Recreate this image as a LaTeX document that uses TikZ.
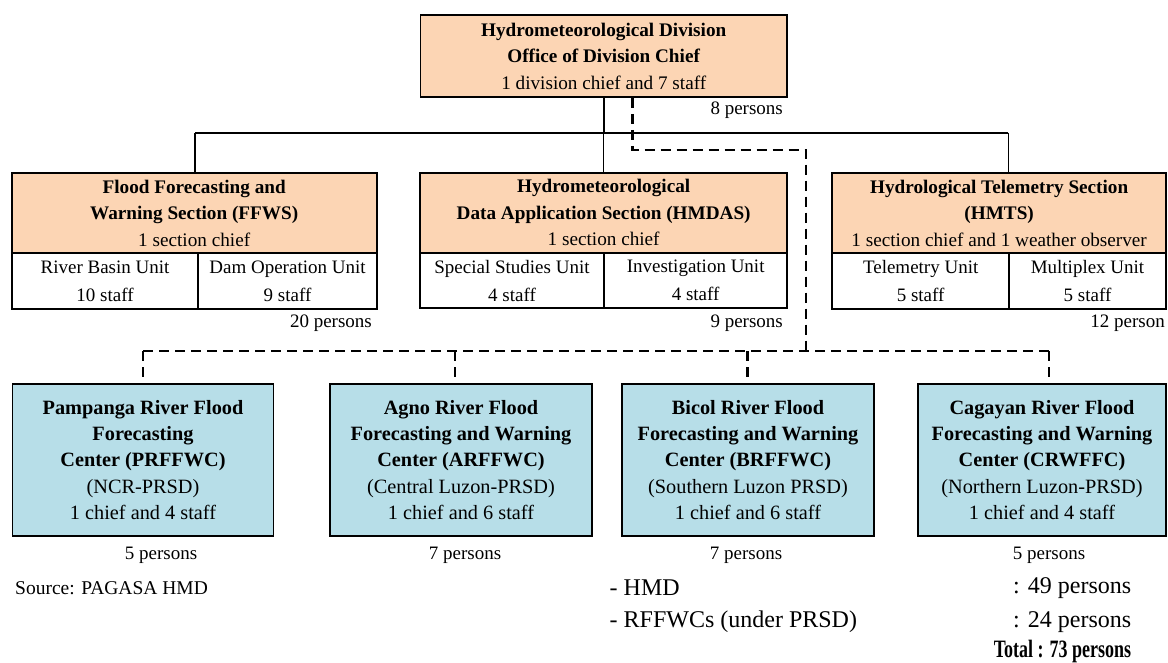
\documentclass[tikz,border=0pt]{standalone}
\usepackage{graphicx}
\usepackage{fontspec}
\setmainfont{Liberation Serif}
\usetikzlibrary{calc}

\definecolor{peach}{RGB}{252,213,180}
\definecolor{paleblue}{RGB}{183,222,232}

\tikzset{
  offbox/.style={draw=black, line width=1.7pt, fill=peach, inner sep=0pt, align=center,
                 font=\fontsize{19.2}{26.5}\selectfont},
  unitcell/.style={draw=black, line width=1.7pt, fill=white, inner sep=0pt, align=center,
                 font=\fontsize{19}{28}\selectfont},
  centrebox/.style={draw=black, line width=1.7pt, fill=paleblue, inner sep=0pt, align=center,
                 font=\fontsize{20.3}{26.3}\selectfont},
  tally/.style={inner sep=0pt, font=\fontsize{19}{22}\selectfont},
  notetext/.style={inner sep=0pt, anchor=west, font=\fontsize{24}{30}\selectfont},
  solidlink/.style={line width=1.6pt},
  dashlink/.style={line width=2.8pt, dash pattern=on 10pt off 6pt},
}

\begin{document}
\begin{tikzpicture}[x=1pt,y=-1pt]
\useasboundingbox (0,0) rectangle (1168,662);

% ---- division office ----
\node[offbox, minimum width=366.5pt, minimum height=82pt] (div) at (603.75,56)
  {\textbf{Hydrometeorological Division}\\\textbf{Office of Division Chief}\\1 division chief and 7 staff};
\node[tally, anchor=east] (divn) at (783,110.7) {8 persons};

% ---- sections ----
\node[offbox, minimum width=365pt, minimum height=80.6pt] (ffws) at (194.2,213)
  {\textbf{Flood Forecasting and}\\\textbf{Warning Section (FFWS)}\\1 section chief};
\node[unitcell, minimum width=186.6pt, minimum height=55.7pt] (rbu) at (105,281.15)
  {River Basin Unit\\10 staff};
\node[unitcell, minimum width=178.4pt, minimum height=55.7pt] (dou) at (287.5,281.15)
  {Dam Operation Unit\\9 staff};
\node[tally, anchor=east] (ffwsn) at (372,323) {20 persons};

\node[offbox, minimum width=367.3pt, minimum height=80pt] (hmdas) at (603.65,212.7)
  {\textbf{Hydrometeorological}\\\textbf{Data Application Section (HMDAS)}\\1 section chief};
\node[unitcell, minimum width=184pt, minimum height=55.6pt] (ssu) at (512,280.5)
  {Special Studies Unit\\4 staff};
\node[unitcell, minimum width=183.3pt, minimum height=55.6pt] (inu) at (695.65,280.5)
  {Investigation Unit\\4 staff};
\node[tally, anchor=east] (hmdasn) at (783,323) {9 persons};

\node[offbox, minimum width=333.7pt, minimum height=80pt] (hmts) at (999.15,213)
  {\textbf{Hydrological Telemetry Section}\\\textbf{(HMTS)}\\1 section chief and 1 weather observer};
\node[unitcell, minimum width=176.7pt, minimum height=56pt] (tlu) at (920.65,281)
  {Telemetry Unit\\5 staff};
\node[unitcell, minimum width=157pt, minimum height=56pt] (mxu) at (1087.5,281)
  {Multiplex Unit\\5 staff};
\node[tally, anchor=east] (hmtsn) at (1165,323) {12 person};

% ---- flood forecasting centres ----
\node[centrebox, minimum width=261pt, minimum height=152pt] (prf) at (143,460)
  {\textbf{Pampanga River Flood}\\\textbf{Forecasting}\\\textbf{Center (PRFFWC)}\\(NCR-PRSD)\\1 chief and 4 staff};
\node[centrebox, minimum width=262pt, minimum height=152pt] (arf) at (461,460)
  {\textbf{Agno River Flood}\\\textbf{Forecasting and Warning}\\\textbf{Center (ARFFWC)}\\(Central Luzon-PRSD)\\1 chief and 6 staff};
\node[centrebox, minimum width=252pt, minimum height=152pt] (brf) at (748,460)
  {\textbf{Bicol River Flood}\\\textbf{Forecasting and Warning}\\\textbf{Center (BRFFWC)}\\(Southern Luzon PRSD)\\1 chief and 6 staff};
\node[centrebox, minimum width=248pt, minimum height=152pt] (crf) at (1042,460)
  {\textbf{Cagayan River Flood}\\\textbf{Forecasting and Warning}\\\textbf{Center (CRWFFC)}\\(Northern Luzon-PRSD)\\1 chief and 4 staff};

\node[tally] (prfn) at (161,555) {5 persons};
\node[tally] (arfn) at (465,555) {7 persons};
\node[tally] (brfn) at (746,555) {7 persons};
\node[tally] (crfn) at (1049,555) {5 persons};

% ---- solid reporting lines ----
\coordinate (busL) at (195,132.7);
\coordinate (busR) at (1008.3,132.7);
\draw[solidlink] (div.south) -- (div.south |- busL);
\draw[solidlink] (busL) -- (busR);
\draw[solidlink] (busL) -- (busL |- ffws.north);
\draw[solidlink] (hmdas.north |- busL) -- (hmdas.north);
\draw[solidlink] (busR) -- (busR |- hmts.north);

% ---- dashed coordination lines ----
\coordinate (dA) at (632.7,150);
\coordinate (dB) at (806,150);
\coordinate (railL) at (143,351);
\coordinate (railR) at (1049,351);
\coordinate (dP) at (143,351);
\coordinate (dAg) at (455,351);
\coordinate (dBi) at (747.5,351);
\coordinate (dCa) at (1049,351);
\draw[dashlink] (div.south -| dA) -- (dA) -- (dB) -- (dB |- railL);
\draw[dashlink] (railL) -- (railR);
\draw[dashlink] (dP) -- (dP |- prf.north);
\draw[dashlink] (dAg) -- (dAg |- arf.north);
\draw[dashlink] (dBi) -- (dBi |- brf.north);
\draw[dashlink] (dCa) -- (dCa |- crf.north);

% ---- notes ----
\node[inner sep=0pt, anchor=west, font=\fontsize{19.5}{22}\selectfont] (src) at (15,588) {Source: PAGASA HMD};
\node[notetext] (hmdl) at (609.5,588) {- HMD};
\node[notetext] (hmdv) at (1013,588) {: 49 persons};
\node[notetext] (rfl) at (609.5,622) {- RFFWCs (under PRSD)};
\node[notetext] (rfv) at (1013,622) {: 24 persons};
\node[inner sep=0pt, anchor=east, font=\fontsize{25}{30}\selectfont\bfseries] (tot) at (hmdv.east |- 0,651)
  {\scalebox{0.72}[1]{Total : 73 persons}};
\end{tikzpicture}
\end{document}
